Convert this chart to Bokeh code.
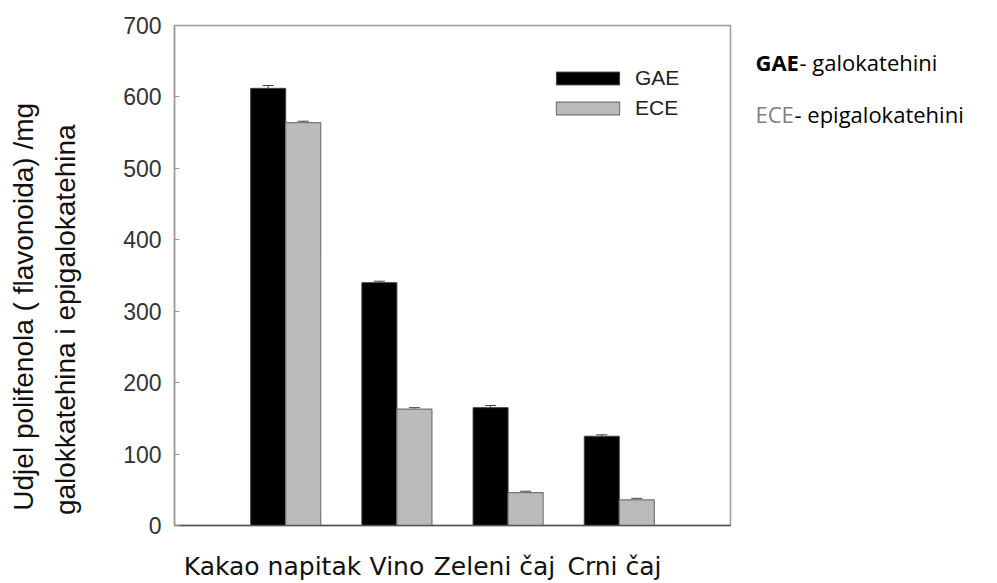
from math import pi
from bokeh.plotting import figure
from bokeh.layouts import row
from bokeh.models import (ColumnDataSource, FixedTicker, Range1d, Legend, LegendItem, Whisker, TeeHead)
from bokeh.core.properties import value
from bokeh.transform import dodge
from bokeh.embed import file_html
from bokeh.resources import INLINE

categories = ["Kakao napitak", "Vino", "Zeleni čaj", "Crni čaj"]
gae = [612, 340, 165, 125]
ece = [564, 163, 46, 36]
gae_err = [4, 2, 3, 2]
ece_err = [2, 2, 2, 2]
y_ticks = [0, 100, 200, 300, 400, 500, 600, 700]
group_x = [1, 2, 3, 4]
label_x = [0.881, 2.0, 2.878, 3.957]
y_label_lines = ["Udjel polifenola ( flavonoida) /mg", "galokkatehina i epigalokatehina"]
note_keys = ["GAE", "ECE"]
note_texts = ["- galokatehini", "- epigalokatehini"]

H = 583
FRAME_TOP = 25
FRAME_BOTTOM = 528

src = ColumnDataSource(dict(
    x=group_x, gae=gae, ece=ece,
    gae_up=[v + e for v, e in zip(gae, gae_err)],
    gae_lo=[v - e for v, e in zip(gae, gae_err)],
    ece_up=[v + e for v, e in zip(ece, ece_err)],
    ece_lo=[v - e for v, e in zip(ece, ece_err)],
))

# ---------------- main chart ----------------
p = figure(width=645, height=H, x_range=Range1d(0, 5), y_range=Range1d(0, 700),
           output_backend="svg", toolbar_location=None,
           min_border_left=74, min_border_right=15, min_border_top=FRAME_TOP,
           min_border_bottom=H - FRAME_BOTTOM)
p.grid.visible = False
p.outline_line_color = "#9a9a9a"
p.outline_line_width = 1.5
p.background_fill_color = "white"
p.border_fill_color = "white"

bw = 0.315
r1 = p.vbar(x=dodge("x", -bw / 2, range=p.x_range), top="gae", width=bw, source=src,
            fill_color="#000000", line_color="#444444", line_width=1)
r2 = p.vbar(x=dodge("x", bw / 2, range=p.x_range), top="ece", width=bw, source=src,
            fill_color="#bbbbbb", line_color="#777777", line_width=1.2)

for col, off in (("gae", -bw / 2), ("ece", bw / 2)):
    w = Whisker(source=src, base=dodge("x", off, range=p.x_range), upper=col + "_up", lower=col + "_lo",
                dimension="height", line_color="#444444", line_width=1,
                upper_head=TeeHead(size=11, line_color="#444444", line_width=1),
                lower_head=None)
    p.add_layout(w)

legend = Legend(items=[LegendItem(label="GAE", renderers=[r1]), LegendItem(label="ECE", renderers=[r2])],
                location=(374, 405), glyph_width=79, glyph_height=16, label_standoff=8,
                label_text_font="Liberation Sans", label_text_font_size="21px", label_text_color="#222222",
                spacing=6, padding=0, margin=0, border_line_color=None, background_fill_alpha=0)
p.add_layout(legend)

ya = p.yaxis[0]
ya.ticker = FixedTicker(ticks=y_ticks)
ya.major_tick_in = 5
ya.major_tick_out = 0
ya.minor_tick_line_color = None
ya.major_tick_line_color = "#999999"
ya.axis_line_color = "#9a9a9a"
ya.axis_line_width = 1.5
ya.major_label_standoff = 13
ya.major_label_text_font = "Liberation Sans"
ya.major_label_text_font_size = "23px"
ya.major_label_text_color = "#333333"

xa = p.xaxis[0]
xa.ticker = FixedTicker(ticks=label_x)
xa.major_label_overrides = {lx: c for lx, c in zip(label_x, categories)}
xa.major_tick_line_color = None
xa.minor_tick_line_color = None
xa.axis_line_color = "#555555"
xa.axis_line_width = 1.5
xa.major_label_standoff = 20
xa.major_label_text_font = "DejaVu Sans"
xa.major_label_text_font_size = "25px"
xa.major_label_text_color = "#111111"

# In a row, Bokeh aligns the frames of the side panels with the main frame,
# so their y ranges are given in (flipped) page pixels of that frame.
side_y = Range1d(H - FRAME_BOTTOM, H - FRAME_TOP)

# ---------------- y-axis title panel (left) ----------------
left = figure(width=100, height=H, x_range=Range1d(0, 100), y_range=side_y,
              x_axis_type=None, y_axis_type=None, output_backend="svg", toolbar_location=None,
              min_border_left=0, min_border_right=0, min_border_top=FRAME_TOP,
              min_border_bottom=H - FRAME_BOTTOM, outline_line_color=None)
left.grid.visible = False
left.text(x=[22.5, 65], y=[H - 308, H - 321], text=y_label_lines, angle=pi / 2,
          text_align="center", text_baseline="middle",
          text_font=value("Liberation Sans"), text_font_size="28px", text_color="#111111")

# ---------------- notes panel (right) ----------------
right = figure(width=250, height=H, x_range=Range1d(0, 250), y_range=Range1d(H - FRAME_BOTTOM, H - FRAME_TOP),
               x_axis_type=None, y_axis_type=None, output_backend="svg", toolbar_location=None,
               min_border_left=0, min_border_right=0, min_border_top=FRAME_TOP,
               min_border_bottom=H - FRAME_BOTTOM, outline_line_color=None)
right.grid.visible = False
note_kw = dict(text_font=value("Open Sans"), text_font_size="22px", text_baseline="middle")
right.text(x=[10], y=[H - 62], text=[note_keys[0]], text_font_style="bold",
           text_color="#000000", **note_kw)
right.text(x=[54], y=[H - 62], text=[note_texts[0]], text_color="#000000", **note_kw)
right.text(x=[10], y=[H - 114], text=[note_keys[1]], text_color="#808080", **note_kw)
right.text(x=[49], y=[H - 114], text=[note_texts[1]], text_color="#000000", **note_kw)

layout = row(left, p, right)
open("out.html", "w").write(file_html(layout, INLINE))
